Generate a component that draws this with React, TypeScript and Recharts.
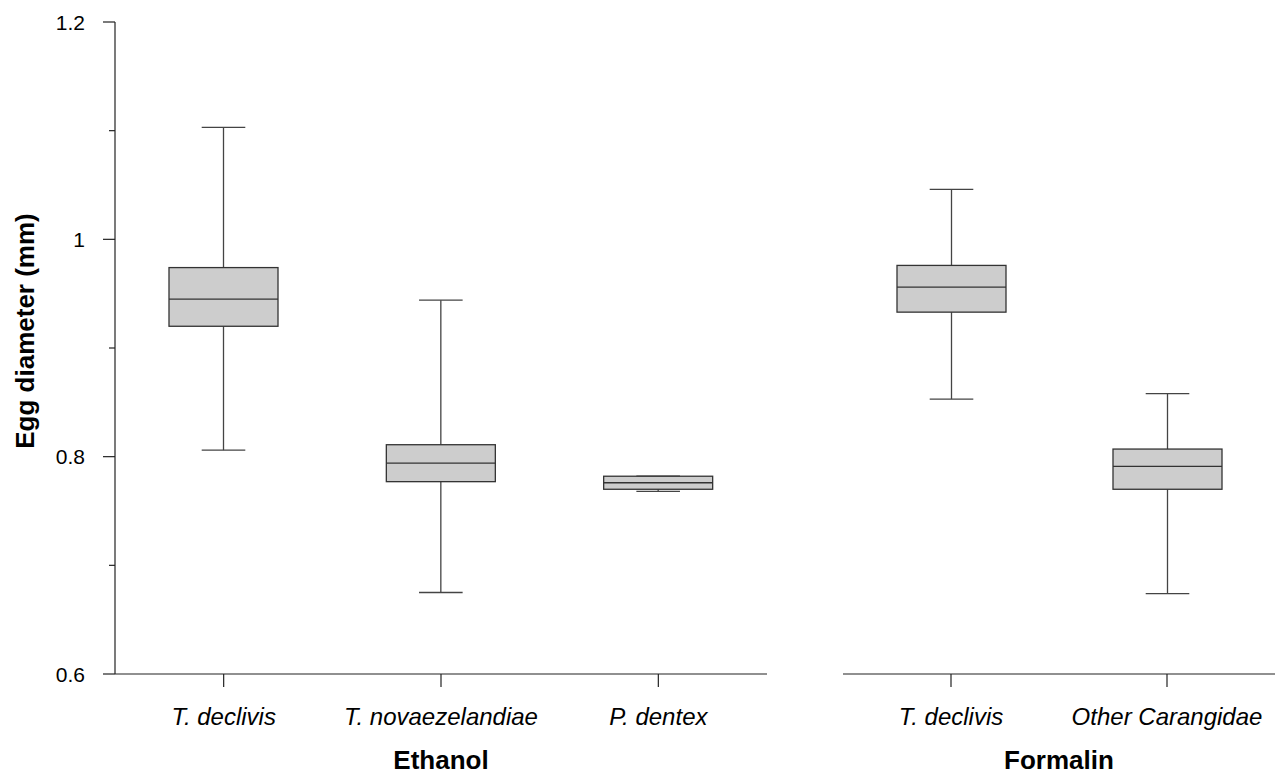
import { Bar, BarChart, XAxis, YAxis } from 'recharts'

const font = '"Liberation Sans", Arial, sans-serif'

// box plot summaries (egg diameter, mm)
const ethanolCategories = ['T. declivis', 'T. novaezelandiae', 'P. dentex']
const ethanolMin = [0.806, 0.675, 0.768]
const ethanolQ1 = [0.92, 0.777, 0.77]
const ethanolMedian = [0.945, 0.794, 0.776]
const ethanolQ3 = [0.974, 0.811, 0.782]
const ethanolMax = [1.103, 0.944, 0.782]

const formalinCategories = ['T. declivis', 'Other Carangidae']
const formalinMin = [0.853, 0.674]
const formalinQ1 = [0.933, 0.77]
const formalinMedian = [0.956, 0.791]
const formalinQ3 = [0.976, 0.807]
const formalinMax = [1.046, 0.858]

const yTicks = [0.6, 0.7, 0.8, 0.9, 1, 1.1, 1.2]
const yLabelled = [0.6, 0.8, 1, 1.2]

type Row = { name: string; min: number; q1: number; median: number; q3: number; max: number; range: number[] }

function buildRows(names: string[], min: number[], q1: number[], med: number[], q3: number[], max: number[]): Row[] {
  return names.map((name, i) => ({
    name,
    min: min[i],
    q1: q1[i],
    median: med[i],
    q3: q3[i],
    max: max[i],
    range: [min[i], max[i]]
  }))
}

const ethanolData = buildRows(ethanolCategories, ethanolMin, ethanolQ1, ethanolMedian, ethanolQ3, ethanolMax)
const formalinData = buildRows(formalinCategories, formalinMin, formalinQ1, formalinMedian, formalinQ3, formalinMax)

function BoxShape(props: any) {
  const { x, y, width, height, payload } = props
  const top = Math.min(y, y + height)
  const bottom = Math.max(y, y + height)
  const span = payload.max - payload.min || 1
  const py = (v: number) => bottom - ((v - payload.min) / span) * (bottom - top)
  const cx = x + width / 2
  const cap = width * 0.2
  const q1 = py(payload.q1)
  const q3 = py(payload.q3)
  const med = py(payload.median)
  return (
    <g>
      <line x1={cx} x2={cx} y1={top} y2={q3} stroke="#444" strokeWidth={1.3} />
      <line x1={cx} x2={cx} y1={q1} y2={bottom} stroke="#444" strokeWidth={1.3} />
      <line x1={cx - cap} x2={cx + cap} y1={top} y2={top} stroke="#444" strokeWidth={1.3} />
      <line x1={cx - cap} x2={cx + cap} y1={bottom} y2={bottom} stroke="#444" strokeWidth={1.3} />
      <rect x={x} y={q3} width={width} height={q1 - q3} fill="#cdcdcd" stroke="#333" strokeWidth={1.3} />
      <line x1={x} x2={x + width} y1={med} y2={med} stroke="#333" strokeWidth={1.3} />
    </g>
  )
}

function YTick(props: any) {
  const { x, y, payload } = props
  const major = yLabelled.includes(payload.value)
  return (
    <g>
      <line x1={major ? x : x + 6} x2={x + 12} y1={y} y2={y} stroke="#222" strokeWidth={1.2} />
      {major && (
        <text x={x - 18} y={y} dy="0.36em" textAnchor="end" fontSize={21} fontFamily={font} fill="#000">
          {String(payload.value)}
        </text>
      )}
    </g>
  )
}

function GroupLabel({ text }: { text: string }) {
  return (props: any) => {
    const vb = props.viewBox
    return (
      <text x={vb.x + vb.width / 2} y={vb.y + vb.height - 5} textAnchor="middle" fontSize={26} fontWeight="bold" fontFamily={font} fill="#000">
        {text}
      </text>
    )
  }
}

const xTick = { fontStyle: 'italic', fontSize: 24, fill: '#000', fontFamily: font }

export default function App() {
  return (
    <div style={{ position: 'relative', width: 1275, height: 774, overflow: 'hidden', background: '#fff' }}>
      <style>{'body { margin: 0; }'}</style>
      <div style={{ position: 'absolute', left: 0, top: 0 }}>
        <BarChart width={767} height={774} data={ethanolData} margin={{ top: 22, right: 0, bottom: 0, left: 0 }}>
          <YAxis
            width={115}
            domain={[0.6, 1.2]}
            ticks={yTicks}
            allowDataOverflow
            interval={0}
            tickLine={false}
            tickSize={12}
            tickMargin={0}
            tick={<YTick />}
            axisLine={{ stroke: '#222', strokeWidth: 1.2 }}
            label={(p: any) => {
              const vb = p.viewBox
              const cy = vb.y + vb.height / 2 - 17
              return (
                <text x={34} y={cy} transform={`rotate(-90, 34, ${cy})`} textAnchor="middle" fontSize={26} fontWeight="bold" fontFamily={font} fill="#000">
                  Egg diameter (mm)
                </text>
              )
            }}
          />
          <XAxis
            dataKey="name"
            height={100}
            interval={0}
            tickSize={13}
            tickMargin={21}
            tick={xTick}
            tickLine={{ stroke: '#222', strokeWidth: 1.2 }}
            axisLine={{ stroke: '#222', strokeWidth: 1.2 }}
            label={GroupLabel({ text: 'Ethanol' })}
          />
          <Bar dataKey="range" barSize={109} shape={<BoxShape />} isAnimationActive={false} />
        </BarChart>
      </div>
      <div style={{ position: 'absolute', left: 843, top: 0 }}>
        <BarChart width={432} height={774} data={formalinData} margin={{ top: 22, right: 0, bottom: 0, left: 0 }}>
          <YAxis hide domain={[0.6, 1.2]} allowDataOverflow />
          <XAxis
            dataKey="name"
            height={100}
            interval={0}
            tickSize={13}
            tickMargin={21}
            tick={xTick}
            tickLine={{ stroke: '#222', strokeWidth: 1.2 }}
            axisLine={{ stroke: '#222', strokeWidth: 1.2 }}
            label={GroupLabel({ text: 'Formalin' })}
          />
          <Bar dataKey="range" barSize={109} shape={<BoxShape />} isAnimationActive={false} />
        </BarChart>
      </div>
    </div>
  )
}
